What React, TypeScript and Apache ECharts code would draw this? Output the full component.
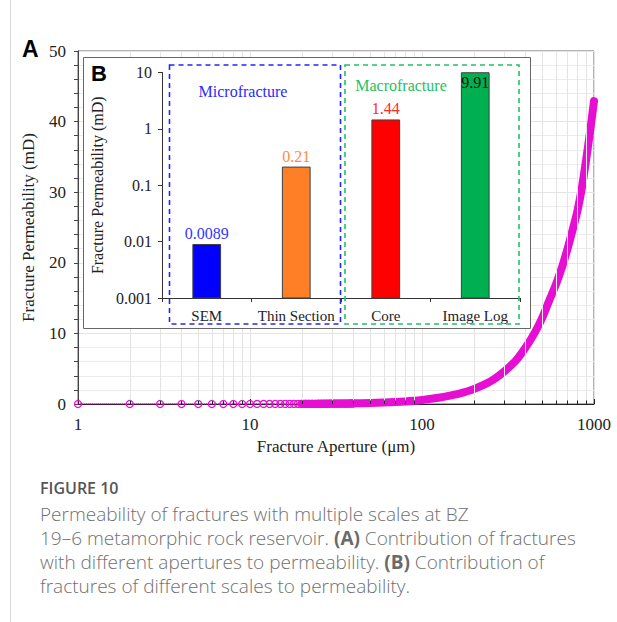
import React, { useEffect, useRef } from 'react';
import * as echarts from 'echarts';

// ---------- Data (A) ----------
const markerApertures = [1, 2, 3, 4, 5, 6, 7, 8, 9, 10, 11, 12, 13, 14, 15, 16, 17, 18, 19, 20, 21, 22, 23, 24, 25, 26, 27, 28, 29, 30, 31, 32, 33, 34, 35, 36, 37, 38, 39, 40];
const markerPerm = [0, 0, 0, 0, 0, 0, 0, 0, 0, 0, 0.01, 0.01, 0.01, 0.01, 0.01, 0.01, 0.01, 0.01, 0.02, 0.02, 0.02, 0.02, 0.02, 0.02, 0.03, 0.03, 0.03, 0.03, 0.04, 0.04, 0.04, 0.04, 0.05, 0.05, 0.05, 0.06, 0.06, 0.06, 0.07, 0.07];
const bandApertures = [20, 30, 40, 50, 60, 70, 80, 90, 100, 125, 150, 175, 200, 250, 300, 350, 400, 450, 500, 550, 600, 650, 700, 750, 800, 850, 900, 950, 1000];
const bandPerm = [0.03, 0.06, 0.1, 0.15, 0.2, 0.27, 0.35, 0.45, 0.57, 0.88, 1.25, 1.65, 2.1, 3.2, 4.6, 6.1, 8.0, 10.0, 12.2, 14.7, 16.9, 19.3, 21.9, 24.6, 27.3, 30.6, 34.6, 38.7, 42.9];
const minorGridX = [2, 3, 4, 5, 6, 7, 8, 9, 20, 30, 40, 50, 60, 70, 80, 90, 200, 300, 400, 500, 600, 700, 800, 900];

// ---------- Data (B) ----------
const scaleCategories = ['SEM', 'Thin Section', 'Core', 'Image Log'];
const scalePerm = [0.0089, 0.21, 1.44, 9.91];
const scaleLabels = ['0.0089', '0.21', '1.44', '9.91'];
const barColors = ['#0000FF', '#FF7F27', '#FF0000', '#00B050'];
const labelColors = ['#3434FF', '#FF8A3D', '#FF2A2A', '#111111'];
const insetTickLabels = ['0.001', '0.01', '0.1', '1', '10'];

const MAGENTA = '#E60ED2';
const SERIF = 'Liberation Serif';
const SANS = 'Liberation Sans';
const CAP = 'Open Sans';

export default function App() {
  const ref = useRef<HTMLDivElement>(null);
  useEffect(() => {
    if (!ref.current) return;
    const chart = echarts.init(ref.current, null, { renderer: 'svg' });

    const markerData = markerApertures.map((a, i) => [a, markerPerm[i]]);
    const bandData = bandApertures.map((a, i) => [a, bandPerm[i]]);
    const insetData = scalePerm.map((v, i) => [i, v]);

    const option: any = {
      animation: false,
      backgroundColor: '#ffffff',
      grid: [
        { left: 78, top: 51, width: 516, height: 353, show: true, borderColor: '#666', borderWidth: 1, backgroundColor: 'transparent' },
        { left: 162, top: 72.5, width: 358, height: 225.5 },
      ],
      xAxis: [
        {
          type: 'log', gridIndex: 0, min: 1, max: 1000, logBase: 10,
          name: 'Fracture Aperture (μm)', nameLocation: 'middle', nameGap: 32,
          nameTextStyle: { fontFamily: SERIF, fontSize: 17, color: '#222' },
          axisLine: { show: true, onZero: false, lineStyle: { color: '#222', width: 1 } },
          axisTick: { show: true, inside: true, length: 5, lineStyle: { color: '#222' } },
          axisLabel: { fontFamily: SERIF, fontSize: 17, color: '#222', margin: 12, formatter: (v: number) => String(v) },
          splitLine: { show: true, lineStyle: { color: '#e4e4e4', width: 1 } },
        },
        {
          type: 'category', gridIndex: 1, data: scaleCategories, z: 11,
          axisLine: { show: true, lineStyle: { color: '#333', width: 1 } },
          axisTick: { show: true, alignWithLabel: false, interval: 0, length: 4, lineStyle: { color: '#333' } },
          axisLabel: { fontFamily: SERIF, fontSize: 15, color: '#222', margin: 10, interval: 0 },
          splitLine: { show: false },
        },
      ],
      yAxis: [
        {
          type: 'value', gridIndex: 0, min: 0, max: 50, interval: 10,
          name: 'Fracture Permeability (mD)', nameLocation: 'middle', nameGap: 41,
          nameTextStyle: { fontFamily: SERIF, fontSize: 17, color: '#222' },
          axisLine: { show: true, lineStyle: { color: '#444', width: 1 } },
          axisTick: { show: true, inside: false, length: 4, lineStyle: { color: '#444' } },
          minorTick: { show: true, splitNumber: 5, length: 4, lineStyle: { color: '#444' } },
          axisLabel: { fontFamily: SERIF, fontSize: 17, color: '#222', margin: 12 },
          splitLine: { show: true, lineStyle: { color: '#e4e4e4', width: 1 } },
          minorSplitLine: { show: true, lineStyle: { color: '#ececec', width: 1 } },
        },
        {
          type: 'log', gridIndex: 1, min: 0.001, max: 10, logBase: 10, z: 11,
          name: 'Fracture Permeability (mD)', nameLocation: 'middle', nameGap: 54,
          nameTextStyle: { fontFamily: SERIF, fontSize: 16, color: '#222' },
          axisLine: { show: true, lineStyle: { color: '#333', width: 1 } },
          axisTick: { show: true, inside: false, length: 4, lineStyle: { color: '#333' } },
          axisLabel: {
            fontFamily: SERIF, fontSize: 16, color: '#222', margin: 10,
            formatter: (_v: number, idx: number) => insetTickLabels[idx] ?? '',
          },
          splitLine: { show: false },
        },
      ],
      series: [
        {
          name: 'grid-helper', type: 'line', xAxisIndex: 0, yAxisIndex: 0, z: 1,
          data: [[1, 0]], showSymbol: false, symbol: 'none', lineStyle: { width: 0 }, silent: true,
          markLine: {
            silent: true, symbol: 'none', label: { show: false },
            lineStyle: { color: '#e4e4e4', width: 1, type: 'solid' },
            data: minorGridX.map((x) => ({ xAxis: x })),
          },
        },
        {
          name: 'tick-helper', type: 'line', xAxisIndex: 0, yAxisIndex: 0, z: 5,
          data: [[1, 0]], showSymbol: false, symbol: 'none', lineStyle: { width: 0 }, silent: true,
          markLine: {
            silent: true, symbol: 'none', label: { show: false },
            lineStyle: { color: '#222', width: 1, type: 'solid' },
            data: minorGridX.map((x) => [{ coord: [x, 0] }, { coord: [x, 0.5] }]),
          },
        },
        {
          name: 'Aperture markers', type: 'line', xAxisIndex: 0, yAxisIndex: 0, z: 3,
          data: markerData, symbol: 'circle', symbolSize: 7, showAllSymbol: true,
          itemStyle: { color: 'rgba(255,255,255,0)', borderColor: MAGENTA, borderWidth: 1.3 },
          lineStyle: { color: MAGENTA, width: 1, type: 'dotted' },
        },
        {
          name: 'Permeability', type: 'line', xAxisIndex: 0, yAxisIndex: 0, z: 4,
          data: bandData, showSymbol: false, symbol: 'none', smooth: 0.3,
          lineStyle: { color: MAGENTA, width: 8, cap: 'round', join: 'round' },
        },
        {
          name: 'Scale permeability', type: 'custom', xAxisIndex: 1, yAxisIndex: 1, z: 12,
          data: insetData,
          renderItem: (params: any, api: any) => {
            const idx = api.value(0);
            const v = api.value(1);
            const top = api.coord([idx, v]);
            const base = api.coord([idx, 0.001]);
            const w = api.size([1, 0])[0] * 0.31;
            const inside = idx === 3;
            return {
              type: 'group',
              children: [
                {
                  type: 'rect',
                  shape: { x: top[0] - w / 2, y: top[1], width: w, height: base[1] - top[1] },
                  style: { fill: barColors[idx], stroke: '#404040', lineWidth: 1 },
                },
                {
                  type: 'text',
                  style: {
                    text: scaleLabels[idx], x: top[0], y: inside ? top[1] + 2 : top[1] - 3,
                    align: 'center', verticalAlign: inside ? 'top' : 'bottom',
                    fill: labelColors[idx], fontFamily: SERIF, fontSize: 16,
                  },
                },
              ],
            };
          },
        },
      ],
      graphic: [
        { type: 'line', z: 20, shape: { x1: 10.5, y1: 0, x2: 10.5, y2: 622 }, style: { stroke: '#d6d6d6', lineWidth: 1 } },
        { type: 'text', z: 20, x: 22, y: 37, style: { text: 'A', fontFamily: SANS, fontWeight: 'bold', fontSize: 23, fill: '#000' } },
        { type: 'rect', z: 10, shape: { x: 83.5, y: 57.5, width: 447, height: 271 }, style: { fill: '#fff', stroke: '#666', lineWidth: 1 } },
        { type: 'text', z: 20, x: 91, y: 62, style: { text: 'B', fontFamily: SANS, fontWeight: 'bold', fontSize: 22, fill: '#000' } },
        { type: 'rect', z: 13, shape: { x: 169.5, y: 65, width: 171, height: 259 }, style: { fill: 'none', stroke: '#2424FF', lineWidth: 1.6, lineDash: [5, 4] } },
        { type: 'rect', z: 13, shape: { x: 345, y: 65, width: 174, height: 259 }, style: { fill: 'none', stroke: '#1FC46A', lineWidth: 1.6, lineDash: [5, 4] } },
        { type: 'text', z: 14, x: 243, y: 91, style: { text: 'Microfracture', fontFamily: SERIF, fontSize: 16, fill: '#2B2BFF', align: 'center', verticalAlign: 'middle' } },
        { type: 'text', z: 14, x: 401, y: 85, style: { text: 'Macrofracture', fontFamily: SERIF, fontSize: 16, fill: '#1FBF66', align: 'center', verticalAlign: 'middle' } },
        { type: 'text', z: 20, x: 40, y: 480, style: { text: 'FIGURE 10', fontFamily: CAP, fontWeight: 600, fontSize: 16, fill: '#555', verticalAlign: 'top' } },
        {
          type: 'text', z: 20, x: 40, y: 502,
          style: {
            text: 'Permeability of fractures with multiple scales at BZ\n19–6 metamorphic rock reservoir. {b|(A)} Contribution of fractures\nwith different apertures to permeability. {b|(B)} Contribution of\nfractures of different scales to permeability.',
            fontFamily: CAP, fontSize: 19, fontWeight: 300, fill: '#707070', lineHeight: 24, verticalAlign: 'top',
            rich: { b: { fontFamily: CAP, fontWeight: 'bold', fontSize: 19, fill: '#6a6a6a', lineHeight: 24 } },
          },
        },
      ],
    };
    chart.setOption(option);
    return () => chart.dispose();
  }, []);
  return <div ref={ref} style={{ position: 'fixed', left: 0, top: 0, width: 617, height: 622 }} />;
}
